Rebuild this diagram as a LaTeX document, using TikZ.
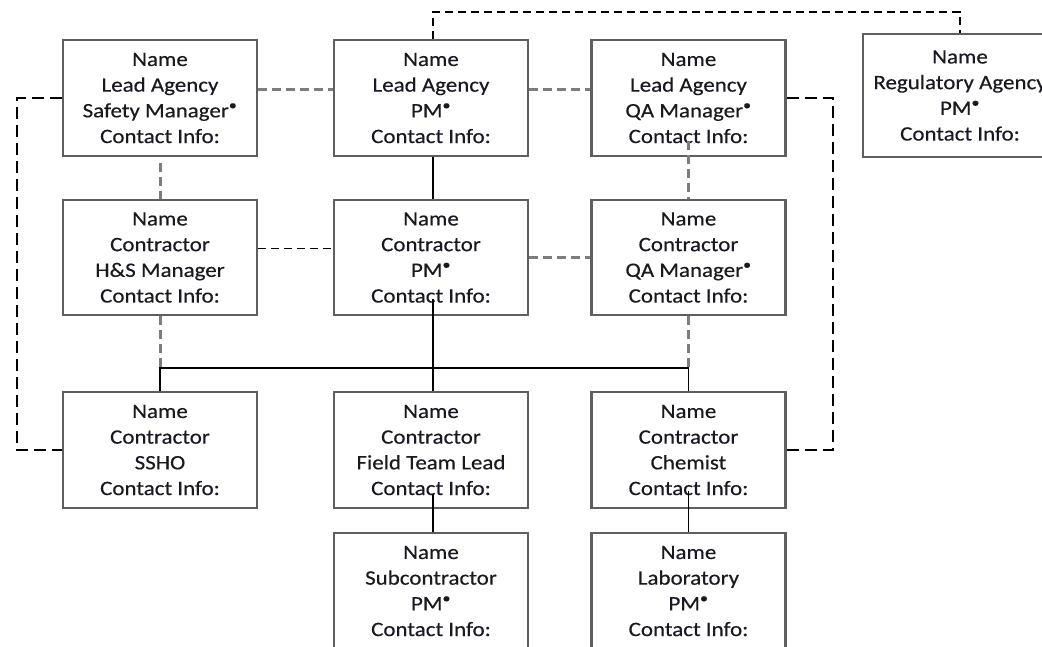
\documentclass[tikz,border=0pt]{standalone}
\usepackage{fontspec}
\setmainfont{Carlito}[FakeStretch=1.12,FakeBold=0.35]
\newcommand{\bul}{\textsuperscript{•}}
\begin{document}
\begin{tikzpicture}[x=1pt,y=-1pt,
  box/.style={draw={rgb,255:red,95;green,95;blue,95}, line width=2.5pt, minimum width=194pt,
    minimum height=116pt, inner sep=0pt, align=center, text={rgb,255:red,25;green,25;blue,35},
    font=\fontsize{20.5}{25.7}\selectfont},
  conn/.style={draw=black, line width=1.6pt},
  gdash/.style={draw={rgb,255:red,125;green,125;blue,125}, line width=3pt, dash pattern=on 9pt off 5pt},
  bdash/.style={draw=black, line width=1.8pt, dash pattern=on 8pt off 5pt},
  ldash/.style={draw=black, line width=1.8pt, dash pattern=on 12pt off 6pt}]
\useasboundingbox (0,0) rectangle (1042,646);
\clip (0,0) rectangle (1042,646);
\fill[white] (0,0) rectangle (1042,646);
% row 1
\node[box] (sm)  at (160,98)   {Name\\Lead Agency\\Safety Manager\bul\\Contact Info:};
\node[box] (lpm) at (431,98)   {Name\\Lead Agency\\PM\bul\\Contact Info:};
\node[box] (lqa) at (688.5,98) {Name\\Lead Agency\\QA Manager\bul\\Contact Info:};
\node[box, minimum height=123pt] (reg) at (960,95.5) {Name\\Regulatory Agency\\PM\bul\\Contact Info:};
% row 2
\node[box, minimum height=115pt] (hs)  at (160,257.5)   {Name\\Contractor\\H\&S Manager\\Contact Info:};
\node[box, minimum height=115pt] (cpm) at (431,257.5)   {Name\\Contractor\\PM\bul\\Contact Info:};
\node[box, minimum height=115pt] (cqa) at (688.5,257.5) {Name\\Contractor\\QA Manager\bul\\Contact Info:};
% row 3
\node[box] (ssho) at (160,450)   {Name\\Contractor\\SSHO\\Contact Info:};
\node[box] (ftl)  at (431,450)   {Name\\Contractor\\Field Team Lead\\Contact Info:};
\node[box] (chem) at (688.5,450) {Name\\Contractor\\Chemist\\Contact Info:};
% row 4
\node[box] (sub) at (431,591)   {Name\\Subcontractor\\PM\bul\\Contact Info:};
\node[box] (lab) at (688.5,591) {Name\\Laboratory\\PM\bul\\Contact Info:};
% helper coordinates
\coordinate (bus) at (0,368);
\coordinate (topc) at (0,12);
\coordinate (leftx) at (17,0);
\coordinate (rightx) at (833,0);
% gray dashed links
\draw[gdash] ([yshift=9pt]sm.east) -- ([yshift=9pt]lpm.west);
\draw[gdash] ([yshift=9pt]lpm.east) -- ([yshift=9pt]lqa.west);
\draw[gdash] ([yshift=-6pt]sm.south) -- (hs.north);
\draw[gdash] ([yshift=16pt]lqa.south) -- (lqa.south) -- (cqa.north);
\draw[gdash] (cpm.east) -- (cqa.west);
\draw[gdash] (hs.south) -- (hs.south |- bus);
\draw[gdash] (cqa.south) -- (cqa.south |- bus);
% black dashed links
\draw[bdash] ([yshift=9pt]hs.east) -- ([yshift=9pt]cpm.west);
\draw[ldash] (sm.west) -- (sm.west -| leftx) |- (ssho.west);
\draw[ldash] (lqa.east) -- (lqa.east -| rightx) |- (chem.east);
\draw[bdash] ([xshift=2pt]lpm.north) -- ([xshift=2pt]lpm.north |- topc) -| (reg.north);
% solid links
\draw[conn] ([xshift=2pt]lpm.south) -- ([xshift=2pt]cpm.north);
\draw[conn] ([xshift=2pt,yshift=17pt]cpm.south) -- ([xshift=2pt]ftl.north);
\draw[conn] (ssho.north) -- (ssho.north |- bus) -- (chem.north |- bus) -- (chem.north);
\draw[conn] ([xshift=2pt,yshift=15pt]ftl.south) -- ([xshift=2pt]sub.north);
\draw[conn] ([yshift=18pt]chem.south) -- (lab.north);
\end{tikzpicture}
\end{document}
